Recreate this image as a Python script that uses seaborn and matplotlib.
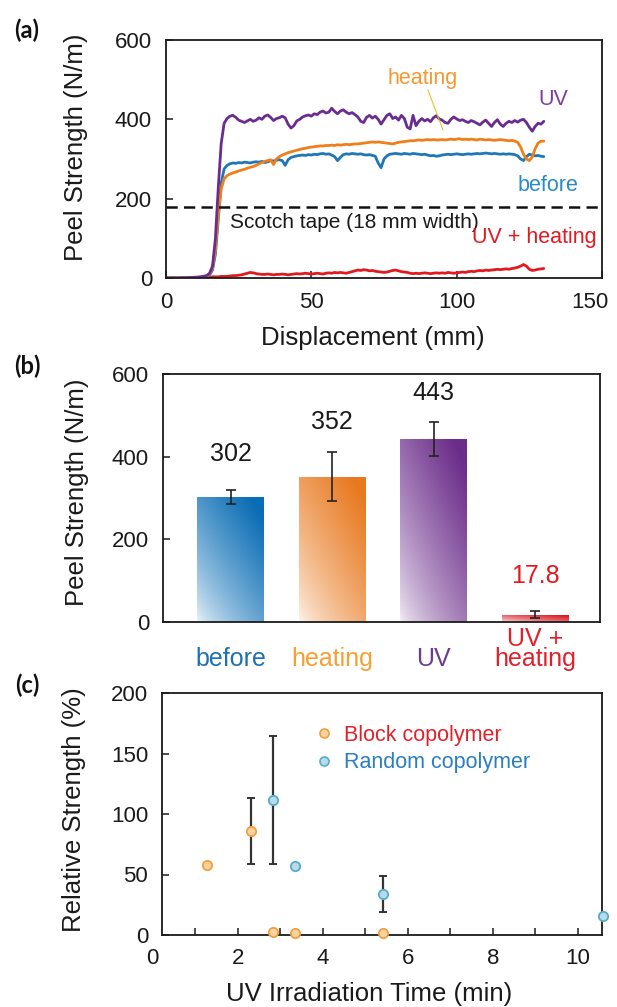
import numpy as np
import pandas as pd
import matplotlib
matplotlib.use("Agg")
import matplotlib.pyplot as plt
import seaborn as sns
from matplotlib.colors import to_rgb
from matplotlib.lines import Line2D
from matplotlib.transforms import ScaledTranslation

# ---------------- data ----------------
# (a) peel curves
displacement = [0, 4, 8, 12] + list(range(14, 131))
peel_uv = [0, 0, 1, 3,
           6, 12, 30, 100, 230, 340, 390, 402, 408,
           410, 405, 398, 395, 392, 396, 400, 395, 398, 404,
           400, 408, 411, 405, 397, 402, 404, 408, 404, 388,
           378, 384, 396, 400, 406, 409, 411, 408, 414, 412,
           418, 421, 416, 418, 428, 420, 414, 421, 424, 418,
           414, 417, 412, 406, 395, 392, 405, 410, 403, 408,
           400, 388, 399, 410, 414, 402, 406, 398, 410, 402,
           380, 376, 410, 384, 395, 402, 396, 400, 394, 404,
           409, 401, 398, 392, 390, 400, 406, 401, 397, 399,
           395, 392, 397, 394, 390, 386, 393, 398, 390, 382,
           392, 399, 388, 382, 390, 395, 392, 397, 393, 398,
           400, 392, 380, 370, 382, 390, 388, 395]
peel_heating = [0, 0, 0, 2,
                5, 10, 25, 70, 160, 225, 250, 258, 262,
                265, 267, 270, 272, 274, 277, 279, 281, 284, 288,
                291, 294, 296, 298, 286, 300, 306, 310, 313, 316,
                318, 320, 322, 324, 326, 327, 329, 330, 331, 332,
                333, 333, 334, 334, 335, 334, 336, 335, 336, 337,
                336, 337, 338, 338, 339, 340, 341, 342, 343, 342,
                343, 342, 341, 340, 339, 338, 340, 342, 343, 344,
                345, 346, 346, 347, 348, 347, 348, 349, 348, 349,
                348, 348, 349, 348, 349, 350, 349, 350, 351, 349,
                350, 349, 350, 349, 348, 350, 349, 348, 349, 348,
                347, 348, 349, 348, 347, 346, 347, 345, 342, 330,
                312, 300, 296, 305, 326, 340, 345, 345]
peel_before = [0, 0, 0, 2,
               4, 8, 20, 60, 150, 240, 275, 284, 288,
               290, 289, 291, 290, 292, 291, 290, 292, 293, 292,
               294, 291, 293, 296, 295, 297, 298, 296, 284, 298,
               304, 306, 308, 309, 310, 309, 311, 310, 312, 311,
               313, 314, 312, 313, 310, 306, 296, 304, 311, 313,
               312, 314, 313, 312, 313, 311, 310, 311, 309, 307,
               290, 278, 300, 308, 312, 313, 314, 313, 312, 314,
               313, 312, 314, 313, 312, 311, 312, 310, 308, 309,
               307, 308, 310, 311, 312, 311, 312, 313, 312, 311,
               312, 313, 312, 313, 314, 313, 314, 315, 314, 313,
               314, 313, 312, 313, 312, 313, 312, 311, 308, 300,
               296, 306, 312, 310, 308, 309, 307, 306]
peel_uv_heating = [0, 0, 0, 1,
                   2, 2, 3, 3, 3, 4, 4, 4, 5,
                   6, 6, 7, 8, 10, 12, 14, 13, 11, 10,
                   9, 9, 10, 9, 8, 9, 9, 10, 9, 8,
                   9, 10, 11, 10, 11, 12, 11, 10, 11, 12,
                   11, 10, 12, 13, 12, 14, 13, 14, 13, 12,
                   14, 16, 18, 20, 19, 21, 20, 18, 19, 17,
                   16, 15, 14, 15, 17, 19, 20, 18, 16, 15,
                   14, 12, 11, 12, 11, 12, 13, 12, 11, 12,
                   13, 12, 13, 12, 14, 13, 12, 13, 14, 15,
                   14, 16, 17, 16, 18, 19, 18, 20, 19, 20,
                   21, 22, 21, 22, 23, 22, 24, 25, 27, 30,
                   34, 30, 22, 19, 20, 22, 23, 24]
scotch_tape = 180

# (b) bar chart
bar_categories = ["before", "heating", "UV", "UV +\nheating"]
bar_values = [302, 352, 443, 17.8]
bar_errors = [17, 59, 42, 8]
bar_value_labels = ["302", "352", "443", "17.8"]

# (c) relative strength vs UV time
block_time = [1.27, 2.31, 2.82, 3.35, 5.42]
block_strength = [57.9, 86.0, 2.5, 1.7, 1.9]
block_err = [0, 27, 0, 0, 0]
random_time = [2.82, 3.35, 5.42, 10.59]
random_strength = [111.6, 57.0, 33.9, 15.7]
random_err = [53, 0, 15, 0]

# ---------------- style ----------------
sns.set_theme(style="white")
plt.rcParams["font.family"] = ["Liberation Sans", "DejaVu Sans"]
plt.rcParams["axes.edgecolor"] = "#1a1a1a"
plt.rcParams["axes.linewidth"] = 1.3

C_UV = "#6a2c8e"
C_HEAT = "#ef7f1a"
C_BEFORE = "#1f77b8"
C_RED = "#e3191f"
TICK_FS = 16
LABEL_FS = 18.5

W, H = 617, 1007
fig = plt.figure(figsize=(W / 100, H / 100), dpi=100)


def px_axes(l, t, r, b):
    return fig.add_axes([l / W, 1 - b / H, (r - l) / W, (b - t) / H])


axA = px_axes(166, 40, 602, 278)
axB = px_axes(163, 374, 600, 622)
axC = px_axes(162, 693, 602, 935)

for ax in (axA, axB, axC):
    ax.tick_params(direction="in", length=5, width=1.1, color="#1a1a1a",
                   labelsize=TICK_FS, left=True, bottom=True, pad=10,
                   labelcolor="#1a1a1a")
    for s in ax.spines.values():
        s.set_visible(True)
        s.set_color("#1a1a1a")
        s.set_linewidth(1.3)

# ---------------- (a) ----------------
dfA = pd.concat([
    pd.DataFrame({"disp": displacement, "peel": peel_uv_heating, "sample": "UV + heating"}),
    pd.DataFrame({"disp": displacement, "peel": peel_before, "sample": "before"}),
    pd.DataFrame({"disp": displacement, "peel": peel_heating, "sample": "heating"}),
    pd.DataFrame({"disp": displacement, "peel": peel_uv, "sample": "UV"}),
])
sns.lineplot(data=dfA, x="disp", y="peel", hue="sample",
             palette={"UV + heating": C_RED, "before": C_BEFORE,
                      "heating": C_HEAT, "UV": C_UV},
             estimator=None, sort=False, lw=2.0, legend=False, ax=axA)
axA.axhline(scotch_tape, color="#111111", ls=(0, (4.5, 2.5)), lw=1.8)
axA.set_xlim(0, 150)
axA.set_ylim(0, 600)
axA.set_xticks([0, 50, 100, 150])
axA.set_yticks([0, 200, 400, 600])
axA.tick_params(axis="x", pad=10)
lastlab = axA.get_xticklabels()[-1]
lastlab.set_transform(lastlab.get_transform() + ScaledTranslation(-0.12, 0, fig.dpi_scale_trans))
axA.set_xlabel("Displacement (mm)", fontsize=LABEL_FS, color="#1a1a1a")
axA.set_ylabel("Peel Strength (N/m)", fontsize=LABEL_FS, color="#1a1a1a")
axA.xaxis.set_label_coords(0.474, -0.2)
axA.yaxis.set_label_coords(-0.179, 0.55)

axA.text(88.4, 504, "heating", color="#f29a2e", fontsize=15.5, ha="center", va="center")
axA.plot([90.1, 95.3], [474, 373], color="#e2c22a", lw=0.8)
axA.text(133.1, 449, "UV", color="#7b3f98", fontsize=15.5, ha="center", va="center")
axA.text(131.4, 234, "before", color="#2a8ac8", fontsize=15.5, ha="center", va="center")
axA.text(22, 139, "Scotch tape (18 mm width)", color="#1a1a1a", fontsize=15,
         ha="left", va="center")
axA.text(148.2, 101, "UV + heating", color=C_RED, fontsize=15.5, ha="right", va="center")

# ---------------- (b) ----------------
bar_colors = ["#0a6db5", "#e8791f", "#6b2d8a", "#d9141e"]
label_colors = ["#1f6fb5", "#f5a033", "#6a3d8f", "#e3202a"]
sns.barplot(x=bar_categories, y=bar_values, hue=bar_categories, palette=bar_colors,
            width=0.66, errorbar=None, legend=False, ax=axB)
nx, ny = 60, 120
gx, gy = np.meshgrid(np.linspace(0, 1, nx), np.linspace(0, 1, ny))
for patch, col in zip(axB.patches, bar_colors):
    x0, y0 = patch.get_x(), patch.get_y()
    w, h = patch.get_width(), patch.get_height()
    t = np.clip(0.5 * gx + 0.6 * gy, 0, 1) ** 0.7
    t = 0.06 + 0.94 * t
    rgb = np.array(to_rgb(col))
    img = np.ones((ny, nx, 3)) - t[..., None] * (1 - rgb)[None, None, :]
    im = axB.imshow(img, extent=[x0, x0 + w, y0, y0 + h], origin="lower",
                    aspect="auto", zorder=patch.get_zorder(), interpolation="bilinear")
    im.set_clip_path(patch)
    patch.set_facecolor("none")
    patch.set_edgecolor("none")
axB.errorbar(range(len(bar_values)), bar_values, yerr=bar_errors, fmt="none",
             ecolor="#222222", elinewidth=1.2, capsize=3.5, capthick=1.2, zorder=5)
label_y = [407, 483, 555, 111]
for i, lab in enumerate(bar_value_labels):
    axB.text(i, label_y[i], lab, fontsize=18, ha="center", va="center",
             color=C_RED if i == 3 else "#1a1a1a")
axB.set_xlim(-0.67, 3.64)
axB.set_ylim(0, 600)
axB.set_yticks([0, 200, 400, 600])
axB.set_xticks(range(len(bar_categories)))
axB.set_xticklabels(bar_categories, fontsize=18, va="baseline", linespacing=0.8)
for tl, c in zip(axB.get_xticklabels(), label_colors):
    tl.set_color(c)
axB.tick_params(axis="x", length=0, pad=32)
axB.set_xlabel("")
axB.set_ylabel("Peel Strength (N/m)", fontsize=LABEL_FS, color="#1a1a1a")
axB.yaxis.set_label_coords(-0.17, 0.525)

# ---------------- (c) ----------------
dfC = pd.concat([
    pd.DataFrame({"time": block_time, "rel": block_strength, "err": block_err,
                  "polymer": "Block copolymer"}),
    pd.DataFrame({"time": random_time, "rel": random_strength, "err": random_err,
                  "polymer": "Random copolymer"}),
])
sub = dfC[dfC.err > 0]
axC.errorbar(sub.time, sub.rel, yerr=sub.err, fmt="none", ecolor="#333333",
             elinewidth=1.6, capsize=3, capthick=1.4, zorder=2)
face = {"Block copolymer": "#fbd3a0", "Random copolymer": "#b6dcea"}
edge = {"Block copolymer": "#f0a040", "Random copolymer": "#5aaac8"}
for name, grp in dfC.groupby("polymer"):
    sns.scatterplot(x=grp.time, y=grp.rel, ax=axC, s=45, color=face[name],
                    edgecolor=edge[name], linewidth=1.3, zorder=3, clip_on=False,
                    legend=False)
axC.set_xlim(0.22, 10.57)
axC.set_ylim(0, 200)
axC.set_yticks([0, 50, 100, 150, 200])
axC.set_xticks(range(1, 11))
axC.set_xticklabels(["" if k % 2 else str(k) for k in range(1, 11)])
axC.tick_params(axis="x", pad=9.5)
axC.text(0, -13 / 242, "0", transform=axC.get_xaxis_transform(), fontsize=TICK_FS,
         ha="center", va="top", color="#1a1a1a")
axC.set_xlabel("UV Irradiation Time (min)", fontsize=LABEL_FS, color="#1a1a1a")
axC.set_ylabel("Relative Strength (%)", fontsize=LABEL_FS, color="#1a1a1a")
axC.xaxis.set_label_coords(0.47, -0.195)
axC.yaxis.set_label_coords(-0.173, 0.52)
handles = [Line2D([], [], ls="", marker="o", ms=6.5, mfc=face[n], mec=edge[n], mew=1.2)
           for n in ["Block copolymer", "Random copolymer"]]
axC.legend(handles, ["Block copolymer", "Random copolymer"], loc="upper left",
           bbox_to_anchor=(0.33, 0.905), frameon=False, fontsize=15.5,
           handlelength=0.8, handletextpad=0.5, labelspacing=0.3, borderaxespad=0,
           labelcolor=["#e3202a", "#2a7fc0"])

# ---------------- panel labels ----------------
for lab, ypx in [("(a)", 30), ("(b)", 366), ("(c)", 685)]:
    fig.text(27 / W, 1 - ypx / H, lab, fontsize=17, fontweight="bold",
             family=["Lato", "DejaVu Sans"], ha="center", va="center", color="#111111")

fig.savefig("out.png", dpi=100)
